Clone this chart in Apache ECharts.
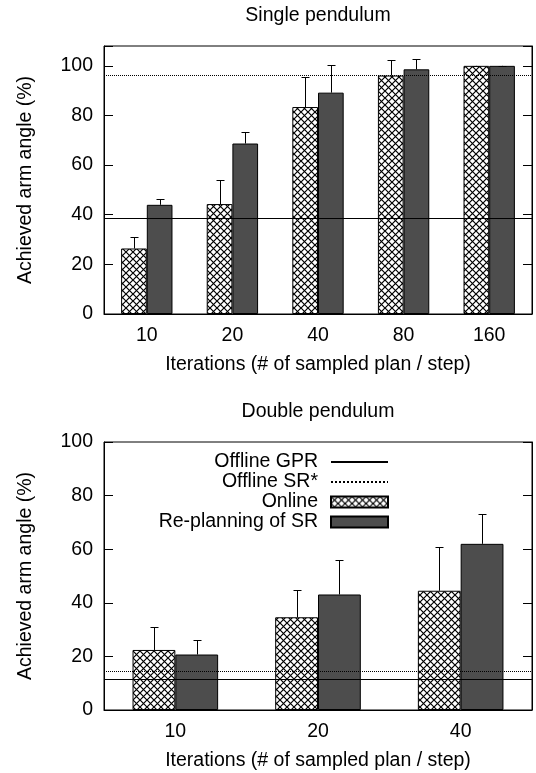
<!DOCTYPE html>
<html>
<head>
<meta charset="utf-8">
<title>Achieved arm angle</title>
<script src="https://cdn.jsdelivr.net/npm/echarts@6/dist/echarts.min.js"></script>
<style>
    body { margin: 0; background: #fff; }
    #main { width: 536px; height: 773px; }
</style>
</head>
<body>
<div id="main"></div>
<script>
    // single pendulum
    const singleCats = ['10', '20', '40', '80', '160'];
    const singleOnline = [26.4, 44.3, 83.4, 96.1, 100];
    const singleOnlineTop = [30.9, 53.9, 95.5, 102.4, 100];
    const singleReplan = [44.0, 68.7, 89.2, 98.6, 100];
    const singleReplanTop = [46.3, 73.4, 100.2, 102.7, 100];
    const singleGPR = 38.7;
    const singleSR = 96.3;

    // double pendulum
    const doubleCats = ['10', '20', '40'];
    const doubleOnline = [22.4, 34.6, 44.5];
    const doubleOnlineTop = [30.9, 44.9, 61.0];
    const doubleReplan = [20.7, 43.1, 62.0];
    const doubleReplanTop = [26.0, 56.0, 73.0];
    const doubleGPR = 11.4;
    const doubleSR = 14.5;

    const FONT = 'Liberation Sans';
    const FS = 19.5;

    // crosshatch fill for "Online"
    const P = 7;
    const hatch = document.createElement('canvas');
    hatch.width = P;
    hatch.height = P;
    const hc = hatch.getContext('2d');
    hc.fillStyle = '#fff';
    hc.fillRect(0, 0, P, P);
    hc.strokeStyle = '#000';
    hc.lineWidth = 1.2;
    hc.beginPath();
    hc.moveTo(-1, -1); hc.lineTo(P + 1, P + 1);
    hc.moveTo(P + 1, -1); hc.lineTo(-1, P + 1);
    hc.stroke();
    const hatchFill = { image: hatch, repeat: 'repeat' };

    const errData = (vals, tops) => vals.map((v, i) => [i, v, tops[i]]);

    const errSeries = (idx, data, offset) => ({
        type: 'custom',
        xAxisIndex: idx, yAxisIndex: idx * 2,
        z: 5, silent: true,
        data: data,
        renderItem: (params, api) => {
            const base = api.coord([api.value(0), api.value(1)]);
            const top = api.coord([api.value(0), api.value(2)]);
            const band = api.size([1, 0])[0];
            const cx = Math.round(base[0] + offset * band) + 0.5;
            const ty = Math.round(top[1]) + 0.5;
            const st = { stroke: '#000', lineWidth: 1 };
            return {
                type: 'group',
                children: [
                    { type: 'line', shape: { x1: cx, y1: base[1], x2: cx, y2: ty }, style: st },
                    { type: 'line', shape: { x1: cx - 4, y1: ty, x2: cx + 4, y2: ty }, style: st }
                ]
            };
        }
    });

    const refLine = (idx, name, value, type) => ({
        name: name, type: 'line',
        xAxisIndex: idx, yAxisIndex: idx * 2,
        z: 1, symbol: 'none', data: [],
        lineStyle: { color: '#000', width: 1, type: type },
        itemStyle: { color: '#000' },
        markLine: {
            silent: true, symbol: 'none', label: { show: false },
            lineStyle: { color: '#000', width: 1, type: type },
            data: [{ yAxis: value }]
        }
    });

    const barSeries = (idx, name, data, fill) => ({
        name: name, type: 'bar',
        xAxisIndex: idx, yAxisIndex: idx * 2,
        z: 2, barWidth: '30%', barGap: '0%',
        itemStyle: { color: fill, borderColor: '#000', borderWidth: 1 },
        data: data
    });

    const xAxis = (idx, cats) => ({
        type: 'category', gridIndex: idx, data: cats,
        axisLine: { lineStyle: { color: '#000' } },
        axisTick: { show: false },
        axisLabel: { color: '#000', fontFamily: FONT, fontSize: FS, margin: 12 },
        name: 'Iterations (# of sampled plan / step)',
        nameLocation: 'middle', nameGap: 41,
        nameTextStyle: { color: '#000', fontFamily: FONT, fontSize: FS }
    });

    const yAxes = (idx, max) => [{
        type: 'value', gridIndex: idx, min: 0, max: max, interval: 20,
        axisLine: { show: true, lineStyle: { color: '#000' } },
        axisTick: { show: true, inside: true, length: 9, lineStyle: { color: '#000' } },
        splitLine: { show: false },
        axisLabel: {
            color: '#000', fontFamily: FONT, fontSize: FS, margin: 11,
            formatter: v => (v % 20 === 0 ? v : '')
        },
        name: 'Achieved arm angle (%)',
        nameLocation: 'middle', nameGap: 68,
        nameTextStyle: { color: '#000', fontFamily: FONT, fontSize: FS }
    }, {
        type: 'value', gridIndex: idx, position: 'right', min: 0, max: max, interval: 20,
        axisLine: { show: true, lineStyle: { color: '#000' } },
        axisTick: { show: true, inside: true, length: 9, lineStyle: { color: '#000' } },
        splitLine: { show: false },
        axisLabel: { show: false }
    }];

    const chart = echarts.init(document.getElementById('main'));
    chart.setOption({
        animation: false,
        title: [
            { text: 'Single pendulum', left: 318, top: 6, textAlign: 'center', padding: 0,
              textStyle: { fontFamily: FONT, fontSize: FS, fontWeight: 'normal', color: '#000' } },
            { text: 'Double pendulum', left: 318, top: 402, textAlign: 'center', padding: 0,
              textStyle: { fontFamily: FONT, fontSize: FS, fontWeight: 'normal', color: '#000' } }
        ],
        legend: {
            orient: 'vertical', right: 142, top: 447, align: 'right',
            itemWidth: 57, itemHeight: 11, itemGap: 0,
            textStyle: { fontFamily: FONT, fontSize: FS, color: '#000', lineHeight: 20, padding: [0, 8, 0, 0] },
            data: [
                { name: 'Offline GPR', itemStyle: { opacity: 0 } },
                { name: 'Offline SR*', itemStyle: { opacity: 0 } },
                { name: 'Online', icon: 'rect' },
                { name: 'Re-planning of SR', icon: 'rect' }
            ]
        },
        grid: [
            { left: 104, top: 46, width: 428, height: 268, show: true, borderColor: '#000', borderWidth: 1 },
            { left: 104, top: 442, width: 428, height: 268, show: true, borderColor: '#000', borderWidth: 1 }
        ],
        xAxis: [xAxis(0, singleCats), xAxis(1, doubleCats)],
        yAxis: [...yAxes(0, 108), ...yAxes(1, 100)],
        series: [
            refLine(0, 'Offline GPR', singleGPR, 'solid'),
            refLine(0, 'Offline SR*', singleSR, 'dotted'),
            barSeries(0, 'Online', singleOnline, hatchFill),
            barSeries(0, 'Re-planning of SR', singleReplan, '#4d4d4d'),
            errSeries(0, errData(singleOnline, singleOnlineTop), -0.15),
            errSeries(0, errData(singleReplan, singleReplanTop), 0.15),

            refLine(1, 'Offline GPR', doubleGPR, 'solid'),
            refLine(1, 'Offline SR*', doubleSR, 'dotted'),
            barSeries(1, 'Online', doubleOnline, hatchFill),
            barSeries(1, 'Re-planning of SR', doubleReplan, '#4d4d4d'),
            errSeries(1, errData(doubleOnline, doubleOnlineTop), -0.15),
            errSeries(1, errData(doubleReplan, doubleReplanTop), 0.15)
        ]
    });

    window.addEventListener('resize', () => chart.resize());
</script>
</body>
</html>
